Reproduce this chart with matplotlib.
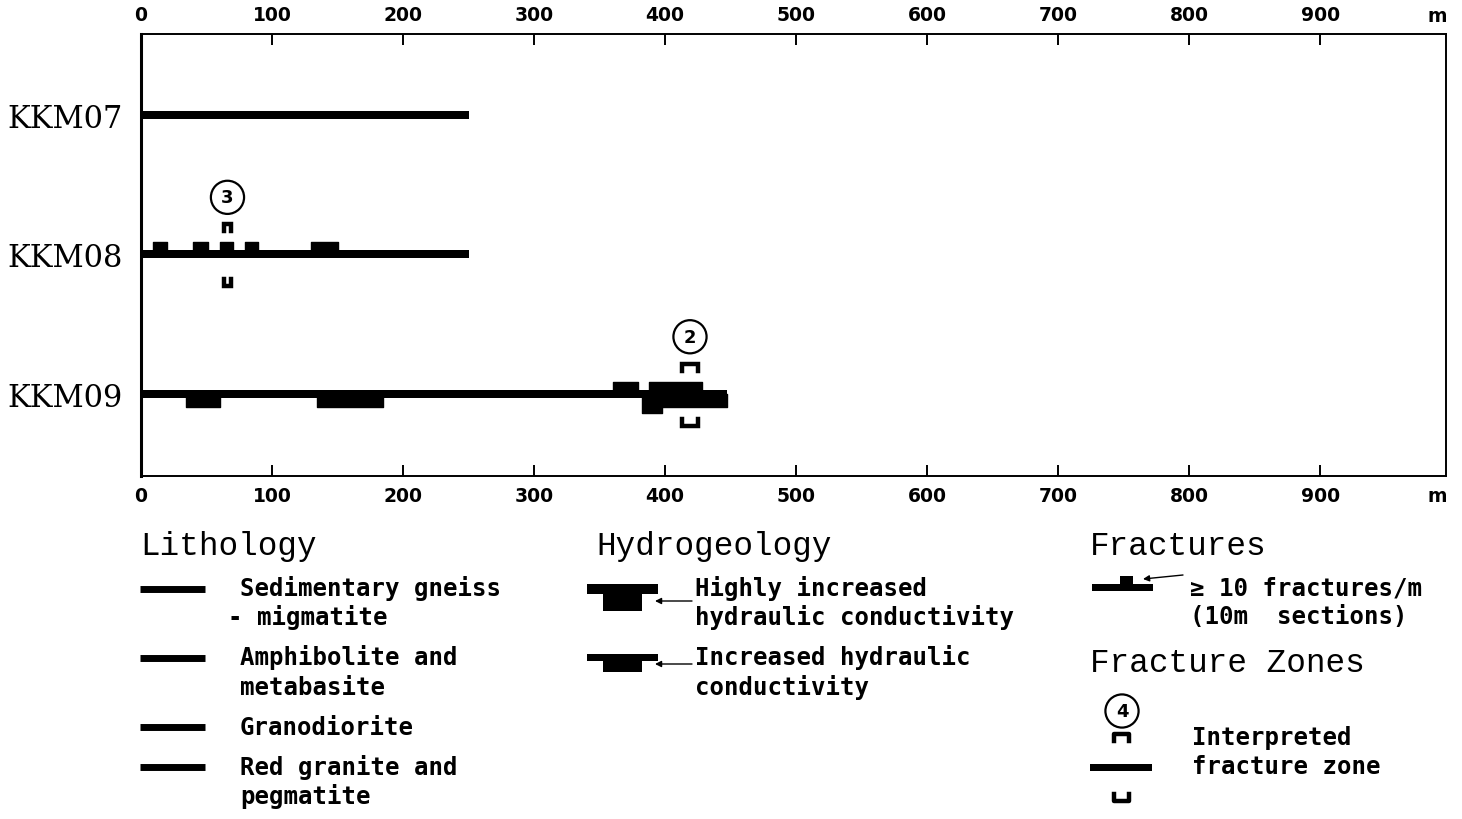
import matplotlib
matplotlib.use("Agg")
import matplotlib.pyplot as plt

# ---------------- data ----------------
boreholes = ["KKM07", "KKM08", "KKM09"]
borehole_length = [250, 250, 447]          # m

# sections with >= 10 fractures/m (start, end) in m, per borehole
fracture_sections = {
    "KKM07": [],
    "KKM08": [(9, 20), (40, 51), (60, 70), (79, 89), (130, 150)],
    "KKM09": [(360, 379), (388, 428)],
}
# increased hydraulic conductivity (start, end)
increased_k = {
    "KKM07": [],
    "KKM08": [],
    "KKM09": [(34, 60), (134, 185), (398, 447)],
}
# highly increased hydraulic conductivity (start, end)
highly_increased_k = {
    "KKM07": [],
    "KKM08": [],
    "KKM09": [(382, 398)],
}
# interpreted fracture zones
zone_borehole = ["KKM08", "KKM09"]
zone_start = [63, 413]
zone_end = [69, 425]
zone_label = ["3", "2"]

x_ticks = [0, 100, 200, 300, 400, 500, 600, 700, 800, 900]

# ---------------- figure ----------------
W, H = 1462, 820
fig = plt.figure(figsize=(W / 100, H / 100), dpi=100)

# legend / annotation layer in pixel coordinates
lax = fig.add_axes([0, 0, 1, 1])
lax.set_xlim(0, W)
lax.set_ylim(H, 0)
lax.axis("off")
lax.patch.set_alpha(0)

ax = fig.add_axes([141 / W, 1 - 477 / H, (1446 - 141) / W, (477 - 35) / H])
ax.set_xlim(0, 996)
ax.set_ylim(2.59, -0.58)
PX = 1 / 139.5  # one pixel in y data units

ax.set_xticks(x_ticks)
ax.set_xticklabels([str(t) for t in x_ticks], fontsize=13.5, fontweight="bold",
                   family="DejaVu Sans")
ax.tick_params(axis="x", direction="in", top=True, bottom=True,
               labeltop=True, labelbottom=True, length=8, width=1.4, pad=7)
ypos = list(range(len(boreholes)))
ax.set_yticks(ypos)
ax.set_yticklabels(boreholes, fontsize=22, family="DejaVu Serif")
ax.tick_params(axis="y", length=0, pad=13)
for s in ax.spines.values():
    s.set_linewidth(1.4)
ax.spines["left"].set_linewidth(2.2)

for i, bh in enumerate(boreholes):
    y = ypos[i]
    ax.barh(y, borehole_length[i], left=0, height=8 * PX, color="black")
    fr = fracture_sections[bh]
    if fr:
        ax.broken_barh([(a, b - a) for a, b in fr], (y - 12 * PX, 12 * PX),
                       color="black")
    ik = increased_k[bh]
    if ik:
        ax.broken_barh([(a, b - a) for a, b in ik], (y, 13 * PX), color="black")
    hk = highly_increased_k[bh]
    if hk:
        ax.broken_barh([(a, b - a) for a, b in hk], (y, 19 * PX), color="black")

for bh, a, b, lab in zip(zone_borehole, zone_start, zone_end, zone_label):
    y = ypos[boreholes.index(bh)]
    ax.plot([a, a, b, b], [y - 23 * PX, y - 30 * PX, y - 30 * PX, y - 23 * PX],
            color="black", lw=3.2, solid_joinstyle="miter")
    ax.plot([a, a, b, b], [y + 25 * PX, y + 32 * PX, y + 32 * PX, y + 25 * PX],
            color="black", lw=3.2, solid_joinstyle="miter")
    ax.text((a + b) / 2, y - 57 * PX, lab, ha="center", va="center",
            fontsize=13, fontweight="bold", family="DejaVu Sans",
            bbox=dict(boxstyle="circle,pad=0.42", fc="white", ec="black", lw=1.6))

# unit labels
lax.text(1437, 17, "m", ha="center", va="center", fontsize=13.5,
         fontweight="bold", family="DejaVu Sans")
lax.text(1437, 497, "m", ha="center", va="center", fontsize=13.5,
         fontweight="bold", family="DejaVu Sans")

# ---------------- legend ----------------
title_kw = dict(fontsize=23.5, family="Liberation Mono", va="center", ha="left")
body_kw = dict(fontsize=17.3, family="DejaVu Sans Mono", fontweight="bold",
               va="center", ha="left")

lax.text(140, 547, "Lithology", **title_kw)
lax.text(596, 547, "Hydrogeology", **title_kw)
lax.text(1090, 547, "Fractures", **title_kw)
lax.text(1090, 664, "Fracture Zones", **title_kw)

for yy in [590, 659, 728, 768]:
    lax.plot([140, 205], [yy, yy], color="black", lw=5, solid_capstyle="butt")
lith_text = [(589, "Sedimentary gneiss"), (618, "- migmatite"),
             (658, "Amphibolite and"), (688, "metabasite"),
             (728, "Granodiorite"), (768, "Red granite and"), (797, "pegmatite")]
for yy, s in lith_text:
    lax.text(228 if s.startswith("-") else 240, yy, s, **body_kw)

# hydrogeology icons
def rect(x0, x1, y0, y1):
    lax.fill([x0, x1, x1, x0], [y0, y0, y1, y1], color="black", lw=0)

rect(587, 658, 585, 595)
rect(603, 642, 585, 612)
rect(587, 658, 655, 662)
rect(603, 642, 655, 673)
for yy in [602, 665]:
    lax.annotate("", xy=(655, yy), xytext=(692, yy),
                 arrowprops=dict(arrowstyle="-|>", lw=1, color="black",
                                 mutation_scale=9, shrinkA=0, shrinkB=0))
hyd_text = [(589, "Highly increased"), (618, "hydraulic conductivity"),
            (658, "Increased hydraulic"), (688, "conductivity")]
for yy, s in hyd_text:
    lax.text(695, yy, s, **body_kw)

# fractures icon
rect(1092, 1153, 585, 592)
rect(1120, 1133, 577, 585)
lax.annotate("", xy=(1143, 580), xytext=(1183, 576),
             arrowprops=dict(arrowstyle="-|>", lw=1, color="black",
                             mutation_scale=9, shrinkA=0, shrinkB=0))
lax.text(1190, 589, "\u2265 10 fractures/m", **body_kw)
lax.text(1190, 617, "(10m  sections)", **body_kw)

# fracture zone icon
lax.text(1122, 712, "4", ha="center", va="center", fontsize=13,
         fontweight="bold", family="DejaVu Sans",
         bbox=dict(boxstyle="circle,pad=0.42", fc="white", ec="black", lw=1.6))
lax.plot([1114, 1114, 1129, 1129], [742, 735, 735, 742], color="black", lw=3.2)
rect(1090, 1152, 765, 772)
lax.plot([1114, 1114, 1129, 1129], [795, 802, 802, 795], color="black", lw=3.2)
lax.text(1192, 738, "Interpreted", **body_kw)
lax.text(1192, 767, "fracture zone", **body_kw)

fig.savefig("out.png", dpi=100)
